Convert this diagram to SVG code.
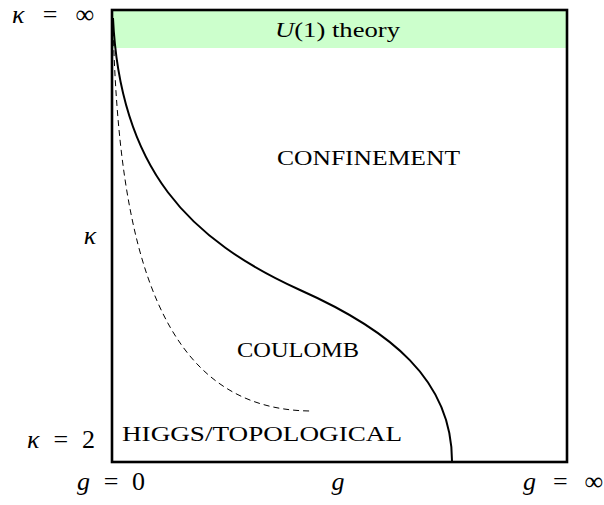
<svg xmlns="http://www.w3.org/2000/svg" width="604" height="505" viewBox="0 0 604 505">
<style>
.t{font-family:"Liberation Serif","DejaVu Serif",serif;fill:#000}
.m{font-style:italic}
.sc{font-size:21px}
.math{font-size:26px}
</style>
<rect width="604" height="505" fill="#fff"/>
<g id="u1band"><rect x="112" y="10" width="455" height="38" fill="#ccffcc"/>
<text class="t" x="275" y="37" font-size="22" textLength="125" lengthAdjust="spacingAndGlyphs"><tspan class="m">U</tspan>(1) theory</text></g>
<g id="frame"><rect x="112" y="10" width="455" height="452" fill="none" stroke="#000" stroke-width="2.6"/></g>
<g id="connectors" fill="none" stroke="#000">
<path id="phase-boundary" d="M113,18 C120,170 190,240 300,290 C390,330 452,380 452,461" stroke-width="2"/>
<path id="crossover" d="M113,20 C118,250 160,410 311,411" stroke-width="1" stroke-dasharray="6,4"/>
</g>
<g id="confinement"><text class="t sc" x="277" y="165" textLength="183" lengthAdjust="spacingAndGlyphs">CONFINEMENT</text></g>
<g id="coulomb"><text class="t sc" x="237" y="357" textLength="122" lengthAdjust="spacingAndGlyphs">COULOMB</text></g>
<g id="higgs"><text class="t sc" x="122" y="441" textLength="280" lengthAdjust="spacingAndGlyphs">HIGGS/TOPOLOGICAL</text></g>
<g id="axes">
<text class="t math" x="12" y="23" textLength="82" lengthAdjust="spacing"><tspan class="m">κ</tspan> = ∞</text>
<text class="t m math" x="90" y="244" text-anchor="middle">κ</text>
<text class="t math" x="27" y="448" textLength="68" lengthAdjust="spacing"><tspan class="m">κ</tspan> = 2</text>
<text class="t math" x="77" y="490" textLength="68" lengthAdjust="spacing"><tspan class="m">g</tspan> = 0</text>
<text class="t m math" x="338" y="490" text-anchor="middle">g</text>
<text class="t math" x="523" y="490" textLength="80" lengthAdjust="spacing"><tspan class="m">g</tspan> = ∞</text>
</g>
</svg>
